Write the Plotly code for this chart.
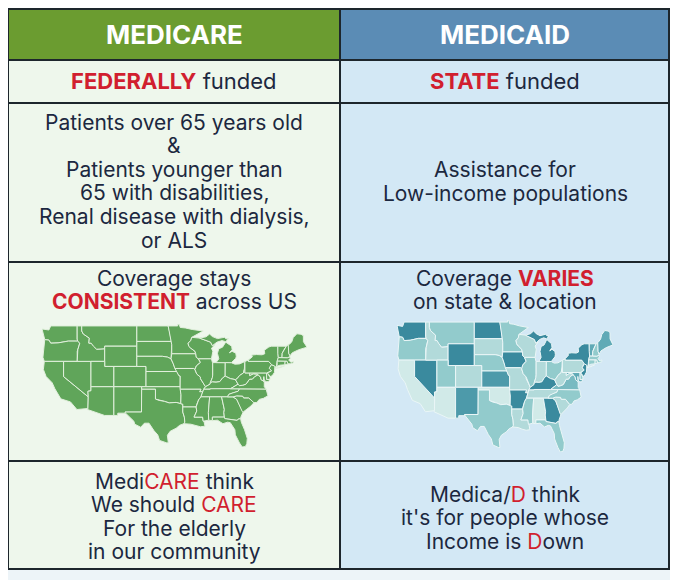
import plotly.graph_objects as go

W, H = 678, 580
OFF = 8  # the page puts the figure 8px in from the corner

# ---- table text, one entry per line ----
headers = ["MEDICARE", "MEDICAID"]
funding = ["<b><span style='color:#d11f2f'>FEDERALLY</span></b> funded",
           "<b><span style='color:#d11f2f'>STATE</span></b> funded"]
eligibility_left = ["Patients over 65 years old", "&", "Patients younger than",
                    "65 with disabilities,", "Renal disease with dialysis,", "or ALS"]
eligibility_right = ["Assistance for", "Low-income populations"]
coverage_left = ["Coverage stays", "<b><span style='color:#d11f2f'>CONSISTENT</span></b> across US"]
coverage_right = ["Coverage <b><span style='color:#d11f2f'>VARIES</span></b>", "on state & location"]
mnemonic_left = ["Medi<span style='color:#d11f2f'>CARE</span> think",
                 "We should <span style='color:#d11f2f'>CARE</span>",
                 "For the elderly", "in our community"]
mnemonic_right = ["Medica/<span style='color:#d11f2f'>D</span> think",
                  "it's for people whose",
                  "Income is <span style='color:#d11f2f'>D</span>own"]

# ---- simplified state outlines (lon, lat); None splits separate parts ----
outlines = {
    "WA": [(-124.7, 48.4), (-123.2, 48.2), (-122.8, 49.0), (-117.04, 49.0), (-117.04, 46.4), (-116.92, 46.0),
           (-119.0, 46.0), (-121.2, 45.65), (-122.8, 45.6), (-123.2, 46.2), (-124.1, 46.3)],
    "OR": [(-124.1, 46.3), (-123.2, 46.2), (-122.8, 45.6), (-121.2, 45.65), (-119.0, 46.0), (-116.92, 46.0),
           (-116.47, 45.6), (-116.9, 44.3), (-117.03, 44.0), (-117.03, 42.0), (-124.2, 42.0), (-124.5, 42.8)],
    "CA": [(-124.2, 42.0), (-120.0, 42.0), (-120.0, 39.0), (-114.63, 35.0), (-114.7, 32.7), (-117.1, 32.5),
           (-118.5, 34.0), (-120.6, 34.6), (-121.9, 36.6), (-122.5, 37.8), (-123.8, 39.0), (-124.4, 40.4)],
    "NV": [(-120.0, 42.0), (-114.04, 42.0), (-114.04, 36.2), (-114.7, 36.1), (-114.63, 35.0), (-120.0, 39.0)],
    "ID": [(-117.04, 49.0), (-116.05, 49.0), (-116.05, 48.0), (-115.7, 47.4), (-114.4, 46.6), (-114.5, 45.6),
           (-114.0, 45.6), (-113.5, 45.0), (-112.8, 44.4), (-111.05, 44.5), (-111.05, 42.0), (-117.03, 42.0),
           (-117.03, 44.0), (-116.9, 44.3), (-116.47, 45.6), (-116.92, 46.0), (-117.04, 46.4)],
    "MT": [(-116.05, 49.0), (-104.05, 49.0), (-104.05, 45.0), (-111.05, 45.0), (-111.05, 44.5), (-112.8, 44.4),
           (-113.5, 45.0), (-114.0, 45.6), (-114.5, 45.6), (-114.4, 46.6), (-115.7, 47.4), (-116.05, 48.0)],
    "WY": [(-111.05, 45.0), (-104.05, 45.0), (-104.05, 41.0), (-111.05, 41.0)],
    "UT": [(-114.04, 42.0), (-111.05, 42.0), (-111.05, 41.0), (-109.05, 41.0), (-109.05, 37.0), (-114.04, 37.0)],
    "CO": [(-109.05, 41.0), (-102.05, 41.0), (-102.05, 37.0), (-109.05, 37.0)],
    "AZ": [(-114.04, 37.0), (-109.05, 37.0), (-109.05, 31.33), (-111.07, 31.33), (-114.8, 32.5), (-114.7, 32.7),
           (-114.63, 35.0), (-114.7, 36.1), (-114.04, 36.2)],
    "NM": [(-109.05, 37.0), (-103.0, 37.0), (-103.0, 36.5), (-103.04, 32.0), (-106.62, 32.0), (-106.5, 31.78),
           (-108.2, 31.78), (-108.2, 31.33), (-109.05, 31.33)],
    "ND": [(-104.05, 49.0), (-97.23, 49.0), (-96.85, 47.6), (-96.6, 46.0), (-96.56, 45.94), (-104.05, 45.94)],
    "SD": [(-104.05, 45.94), (-96.56, 45.94), (-96.45, 45.3), (-96.45, 43.5), (-96.6, 42.5), (-97.4, 42.85),
           (-98.5, 43.0), (-104.05, 43.0)],
    "NE": [(-104.05, 43.0), (-98.5, 43.0), (-97.4, 42.85), (-96.6, 42.5), (-96.1, 41.5), (-95.9, 41.0),
           (-95.3, 40.0), (-102.05, 40.0), (-102.05, 41.0), (-104.05, 41.0)],
    "KS": [(-102.05, 40.0), (-95.3, 40.0), (-94.9, 39.2), (-94.6, 39.1), (-94.62, 37.0), (-102.05, 37.0)],
    "OK": [(-103.0, 37.0), (-94.62, 37.0), (-94.43, 35.4), (-94.48, 33.64), (-95.5, 33.9), (-97.0, 33.8),
           (-98.0, 34.1), (-99.2, 34.3), (-100.0, 34.56), (-100.0, 36.5), (-103.0, 36.5)],
    "TX": [(-103.0, 36.5), (-100.0, 36.5), (-100.0, 34.56), (-99.2, 34.3), (-98.0, 34.1), (-97.0, 33.8),
           (-95.5, 33.9), (-94.48, 33.64), (-94.04, 33.55), (-94.04, 32.0), (-93.7, 31.0), (-93.6, 30.0),
           (-93.8, 29.7), (-94.7, 29.4), (-95.5, 28.8), (-96.8, 28.2), (-97.4, 27.4), (-97.2, 25.95),
           (-97.5, 25.9), (-99.1, 26.4), (-99.5, 27.5), (-100.3, 28.3), (-101.4, 29.8), (-102.4, 29.8),
           (-103.2, 29.0), (-104.5, 29.6), (-104.7, 30.2), (-106.5, 31.78), (-106.62, 32.0), (-103.04, 32.0)],
    "MN": [(-97.23, 49.0), (-95.15, 49.0), (-95.15, 49.38), (-94.8, 49.3), (-94.6, 48.7), (-93.5, 48.6),
           (-92.0, 48.3), (-90.0, 48.1), (-89.6, 48.0), (-92.1, 46.75), (-92.3, 46.1), (-92.9, 45.6),
           (-92.75, 45.0), (-92.3, 44.6), (-91.4, 44.0), (-91.22, 43.5), (-96.45, 43.5), (-96.45, 45.3),
           (-96.56, 45.94), (-96.6, 46.0), (-96.85, 47.6)],
    "IA": [(-96.45, 43.5), (-91.22, 43.5), (-91.1, 42.8), (-90.65, 42.5), (-90.2, 41.8), (-91.1, 41.1),
           (-91.4, 40.4), (-91.7, 40.6), (-95.77, 40.6), (-95.9, 41.0), (-96.1, 41.5), (-96.6, 42.5)],
    "MO": [(-95.77, 40.6), (-91.7, 40.6), (-91.4, 40.4), (-91.0, 39.5), (-90.2, 38.9), (-90.2, 38.6),
           (-89.5, 37.6), (-89.1, 37.0), (-89.5, 36.5), (-89.7, 36.0), (-90.38, 36.0), (-90.1, 36.5),
           (-94.62, 36.5), (-94.62, 37.0), (-94.6, 39.1), (-94.9, 39.2), (-95.3, 40.0)],
    "AR": [(-94.62, 36.5), (-90.1, 36.5), (-90.38, 36.0), (-89.7, 36.0), (-90.1, 35.0), (-90.6, 34.4),
           (-91.0, 33.5), (-91.15, 33.0), (-94.04, 33.0), (-94.04, 33.55), (-94.48, 33.64), (-94.43, 35.4)],
    "LA": [(-94.04, 33.0), (-91.15, 33.0), (-91.0, 32.2), (-91.6, 31.0), (-89.73, 31.0), (-89.6, 30.2),
           (-89.4, 30.0), (-89.2, 29.2), (-90.2, 29.1), (-91.3, 29.3), (-92.3, 29.6), (-93.8, 29.7),
           (-93.6, 30.0), (-93.7, 31.0), (-94.04, 32.0)],
    "WI": [(-92.1, 46.75), (-90.4, 46.6), (-88.0, 45.8), (-87.6, 45.1), (-87.0, 45.3), (-87.8, 44.6),
           (-87.5, 44.0), (-87.8, 42.5), (-90.65, 42.5), (-91.1, 42.8), (-91.22, 43.5), (-91.4, 44.0),
           (-92.3, 44.6), (-92.75, 45.0), (-92.9, 45.6), (-92.3, 46.1)],
    "IL": [(-90.65, 42.5), (-87.8, 42.5), (-87.6, 41.8), (-87.53, 41.7), (-87.53, 39.3), (-87.6, 38.8),
           (-88.05, 37.8), (-88.1, 37.5), (-89.1, 37.0), (-89.5, 37.6), (-90.2, 38.6), (-90.2, 38.9),
           (-91.0, 39.5), (-91.4, 40.4), (-91.1, 41.1), (-90.2, 41.8)],
    "IN": [(-87.53, 41.76), (-84.8, 41.76), (-84.82, 39.1), (-85.4, 38.7), (-86.0, 38.0), (-86.8, 37.9),
           (-87.6, 37.95), (-88.05, 37.8), (-87.6, 38.8), (-87.53, 39.3)],
    "MI": [(-86.8, 41.76), (-84.8, 41.76), (-83.45, 41.73), (-83.1, 42.1), (-82.5, 42.6), (-82.4, 43.0),
           (-82.5, 43.6), (-83.3, 44.0), (-83.9, 43.7), (-83.3, 44.3), (-83.4, 45.0), (-84.7, 45.8),
           (-85.0, 45.4), (-85.4, 44.8), (-86.2, 44.5), (-86.5, 43.6), (-86.2, 42.5), None,
           (-90.4, 46.6), (-89.0, 46.85), (-88.2, 47.4), (-87.6, 46.9), (-86.5, 46.5), (-85.0, 46.75),
           (-84.6, 46.45), (-84.1, 46.5), (-84.7, 45.9), (-85.5, 46.1), (-86.6, 45.8), (-87.6, 45.1),
           (-88.0, 45.8)],
    "OH": [(-84.8, 41.76), (-83.45, 41.73), (-82.7, 41.45), (-81.7, 41.5), (-80.52, 41.98), (-80.52, 40.64),
           (-80.65, 40.4), (-80.85, 39.7), (-81.7, 39.2), (-82.2, 38.6), (-82.6, 38.4), (-83.7, 38.6),
           (-84.82, 39.1)],
    "KY": [(-89.5, 36.5), (-89.1, 37.0), (-88.1, 37.5), (-88.05, 37.8), (-87.6, 37.95), (-86.8, 37.9),
           (-86.0, 38.0), (-85.4, 38.7), (-84.82, 39.1), (-83.7, 38.6), (-82.6, 38.4), (-82.0, 37.5),
           (-83.67, 36.6), (-88.07, 36.6), (-88.07, 36.5)],
    "TN": [(-90.1, 35.0), (-89.7, 36.0), (-89.5, 36.5), (-88.07, 36.5), (-88.07, 36.6), (-83.67, 36.6),
           (-81.68, 36.59), (-82.0, 36.1), (-83.1, 35.8), (-84.0, 35.5), (-84.32, 35.0), (-88.2, 35.0)],
    "MS": [(-91.15, 33.0), (-91.0, 33.5), (-90.6, 34.4), (-90.1, 35.0), (-88.2, 35.0), (-88.47, 31.9),
           (-88.4, 30.4), (-89.6, 30.2), (-89.73, 31.0), (-91.6, 31.0), (-91.0, 32.2)],
    "AL": [(-88.2, 35.0), (-85.6, 35.0), (-85.0, 32.5), (-85.1, 31.9), (-85.0, 31.0), (-87.6, 31.0),
           (-87.6, 30.3), (-88.4, 30.4), (-88.47, 31.9)],
    "GA": [(-85.6, 35.0), (-84.32, 35.0), (-83.1, 35.0), (-82.3, 34.5), (-81.9, 33.7), (-81.1, 32.1),
           (-80.9, 32.0), (-81.4, 31.0), (-81.45, 30.7), (-82.0, 30.6), (-82.2, 30.35), (-84.9, 30.7),
           (-85.0, 31.0), (-85.1, 31.9), (-85.0, 32.5)],
    "FL": [(-87.6, 31.0), (-85.0, 31.0), (-84.9, 30.7), (-82.2, 30.35), (-82.0, 30.6), (-81.45, 30.7),
           (-81.3, 30.0), (-80.6, 28.5), (-80.0, 26.8), (-80.1, 25.8), (-80.4, 25.2), (-81.1, 25.1),
           (-81.7, 25.9), (-82.6, 27.5), (-82.7, 28.5), (-83.7, 29.9), (-84.3, 30.0), (-85.3, 29.7),
           (-86.5, 30.4), (-87.6, 30.3)],
    "SC": [(-83.1, 35.0), (-82.3, 35.2), (-81.0, 35.15), (-80.8, 34.8), (-79.7, 34.8), (-78.55, 33.85),
           (-79.2, 33.2), (-80.0, 32.6), (-80.9, 32.0), (-81.1, 32.1), (-81.9, 33.7), (-82.3, 34.5)],
    "NC": [(-84.32, 35.0), (-83.1, 35.0), (-82.3, 35.2), (-81.0, 35.15), (-80.8, 34.8), (-79.7, 34.8),
           (-78.55, 33.85), (-77.9, 33.9), (-77.4, 34.5), (-76.5, 34.7), (-75.5, 35.2), (-75.7, 36.0),
           (-75.9, 36.55), (-81.68, 36.59), (-82.0, 36.1), (-83.1, 35.8), (-84.0, 35.5)],
    "VA": [(-83.67, 36.6), (-75.9, 36.55), (-76.3, 37.0), (-76.3, 38.0), (-77.0, 38.4), (-77.1, 38.9),
           (-77.5, 39.2), (-77.72, 39.32), (-78.4, 39.0), (-78.9, 38.5), (-79.5, 38.5), (-80.0, 37.9),
           (-80.3, 37.5), (-81.0, 37.3), (-81.7, 37.2), (-82.0, 37.5)],
    "WV": [(-82.6, 38.4), (-82.2, 38.6), (-81.7, 39.2), (-80.85, 39.7), (-80.65, 40.4), (-80.52, 40.64),
           (-80.52, 39.72), (-79.48, 39.72), (-79.48, 39.2), (-78.7, 39.55), (-77.8, 39.5), (-77.72, 39.32),
           (-78.4, 39.0), (-78.9, 38.5), (-79.5, 38.5), (-80.0, 37.9), (-80.3, 37.5), (-81.0, 37.3),
           (-81.7, 37.2), (-82.0, 37.5)],
    "MD": [(-79.48, 39.72), (-75.79, 39.72), (-75.79, 38.45), (-75.05, 38.45), (-75.4, 38.0), (-75.9, 38.0),
           (-76.3, 38.3), (-76.4, 39.0), (-76.5, 38.3), (-76.3, 38.0), (-77.0, 38.4), (-77.1, 38.9),
           (-77.5, 39.2), (-77.72, 39.32), (-77.8, 39.5), (-78.7, 39.55), (-79.48, 39.2)],
    "DE": [(-75.79, 39.72), (-75.4, 39.8), (-75.55, 39.6), (-75.05, 38.8), (-75.05, 38.45), (-75.79, 38.45)],
    "PA": [(-80.52, 41.98), (-80.1, 42.15), (-79.76, 42.27), (-79.76, 42.0), (-75.35, 42.0), (-75.1, 41.8),
           (-74.7, 41.35), (-75.1, 40.85), (-75.2, 40.6), (-74.7, 40.15), (-75.4, 39.8), (-75.79, 39.72),
           (-80.52, 39.72), (-80.52, 40.64)],
    "NJ": [(-74.7, 41.35), (-73.9, 41.0), (-74.0, 40.75), (-73.98, 40.4), (-74.1, 39.8), (-74.4, 39.4),
           (-74.9, 38.95), (-75.1, 39.2), (-75.55, 39.6), (-75.4, 39.8), (-74.7, 40.15), (-75.2, 40.6),
           (-75.1, 40.85)],
    "NY": [(-79.76, 42.0), (-79.76, 42.27), (-78.9, 42.9), (-79.05, 43.25), (-78.0, 43.35), (-76.8, 43.3),
           (-76.2, 43.5), (-76.3, 44.2), (-75.3, 44.85), (-74.7, 45.0), (-73.35, 45.0), (-73.35, 43.6),
           (-73.25, 42.75), (-73.5, 42.05), (-73.5, 41.3), (-73.65, 41.0), (-74.0, 40.75), (-73.9, 41.0),
           (-74.7, 41.35), (-75.1, 41.8), (-75.35, 42.0), None,
           (-74.0, 40.6), (-73.0, 40.75), (-71.9, 41.1), (-72.6, 40.9), (-73.9, 40.55)],
    "VT": [(-73.35, 45.0), (-71.5, 45.0), (-72.0, 44.3), (-72.4, 43.6), (-72.45, 42.73), (-73.25, 42.75),
           (-73.35, 43.6)],
    "NH": [(-71.5, 45.0), (-71.08, 45.3), (-71.0, 44.5), (-70.98, 43.6), (-70.7, 43.1), (-70.8, 42.87),
           (-71.3, 42.7), (-72.45, 42.73), (-72.4, 43.6), (-72.0, 44.3)],
    "ME": [(-71.08, 45.3), (-70.8, 45.4), (-70.3, 45.9), (-70.0, 46.7), (-69.2, 47.45), (-68.3, 47.35),
           (-67.8, 47.07), (-67.78, 45.9), (-67.0, 44.8), (-68.8, 44.3), (-70.2, 43.7), (-70.7, 43.1),
           (-70.98, 43.6), (-71.0, 44.5)],
    "MA": [(-73.5, 42.05), (-73.25, 42.75), (-72.45, 42.73), (-71.3, 42.7), (-70.8, 42.87), (-70.6, 42.6),
           (-71.0, 42.3), (-70.5, 41.8), (-70.0, 42.05), (-70.0, 41.7), (-70.6, 41.55), (-71.12, 41.5),
           (-71.38, 42.02), (-71.8, 42.02)],
    "RI": [(-71.8, 42.02), (-71.38, 42.02), (-71.12, 41.5), (-71.85, 41.32)],
    "CT": [(-73.5, 42.05), (-71.8, 42.02), (-71.85, 41.32), (-72.9, 41.25), (-73.65, 41.0), (-73.5, 41.3)],
}

# shade level of each state on the "varies" map (1 light .. 4 dark)
shade = {"WA": 4, "OR": 2, "CA": 1, "NV": 4, "ID": 1.5, "MT": 2, "WY": 4, "UT": 2, "AZ": 1, "CO": 1.5,
         "NM": 3.5, "ND": 4, "SD": 1.5, "NE": 2, "KS": 3.5, "OK": 1, "TX": 2, "MN": 2, "IA": 4, "MO": 1.5,
         "AR": 4, "LA": 1.5, "WI": 1.5, "IL": 2, "MI": 4, "IN": 1.5, "OH": 2, "KY": 4, "TN": 1.5, "MS": 2,
         "AL": 1, "GA": 4, "FL": 2, "SC": 1.5, "NC": 2, "VA": 2.5, "WV": 1.5, "PA": 1.5, "NY": 4, "VT": 3,
         "NH": 2, "ME": 3, "MA": 2, "CT": 2, "RI": 2, "NJ": 4, "DE": 2, "MD": 3}


def path(pts):
    xs, ys = [], []
    part = []
    for p in pts + [None]:
        if p is None:
            xs += [q[0] for q in part] + [part[0][0], None]
            ys += [q[1] for q in part] + [part[0][1], None]
            part = []
        else:
            part.append(p)
    return xs[:-1], ys[:-1]


def teal(v):
    # light -> dark teal
    stops = [(1, (209, 234, 232)), (2, (146, 203, 204)), (3, (96, 170, 182)), (4, (58, 138, 158))]
    for (a, ca), (b, cb) in zip(stops[:-1], stops[1:]):
        if v <= b:
            t = (v - a) / (b - a)
            return "rgb(%d,%d,%d)" % tuple(round(ca[k] + t * (cb[k] - ca[k])) for k in range(3))
    return "rgb(58,138,158)"


fig = go.Figure()

for st, pts in outlines.items():
    x, y = path(pts)
    fig.add_trace(go.Scatter(x=x, y=y, mode="lines", fill="toself", fillcolor="#60a55a",
                             line=dict(color="#e2f0dd", width=1), xaxis="x2", yaxis="y2",
                             hoverinfo="text", text=st, showlegend=False))
    fig.add_trace(go.Scatter(x=x, y=y, mode="lines", fill="toself", fillcolor=teal(shade[st]),
                             line=dict(color="#eaf6f7", width=1), xaxis="x3", yaxis="y3",
                             hoverinfo="text", text=st, showlegend=False))

# ---- table frame (page pixels) ----
rows = [9, 60, 103, 262, 461, 569]
xl, xm, xr = 8, 340, 669
border = "#1d262c"
shapes = [
    dict(type="rect", x0=xl, x1=xm, y0=rows[0], y1=rows[1], fillcolor="#6b9c30", line_width=0),
    dict(type="rect", x0=xm, x1=xr, y0=rows[0], y1=rows[1], fillcolor="#5b8cb5", line_width=0),
    dict(type="rect", x0=xl, x1=xm, y0=rows[1], y1=rows[-1], fillcolor="#eef7ec", line_width=0),
    dict(type="rect", x0=xm, x1=xr, y0=rows[1], y1=rows[-1], fillcolor="#d3e8f5", line_width=0),
]
for y in rows[1:-1]:
    shapes.append(dict(type="line", x0=xl, x1=xr, y0=y, y1=y, line=dict(color=border, width=2)))
shapes.append(dict(type="line", x0=xm, x1=xm, y0=rows[0], y1=rows[-1], line=dict(color=border, width=2)))
shapes.append(dict(type="rect", x0=xl, x1=xr, y0=rows[0], y1=rows[-1], line=dict(color=border, width=2)))
for s in shapes:
    s.update(xref="x", yref="y", layer="below")

txt = "#1c2840"
font = "Inter"
cl, cr = 174, 505
ann = []


def lines(x, y0, items, size=21, step=23.6, color=txt, bold=False):
    for i, t in enumerate(items):
        ann.append(dict(x=x, y=y0 + i * step, text=("<b>%s</b>" % t) if bold else t,
                        font=dict(size=size, color=color, family=font)))


lines(cl, 34, [headers[0]], size=26, color="white", bold=True)
lines(cr, 34, [headers[1]], size=26, color="white", bold=True)
lines(cl, 81, [funding[0]], size=22)
lines(cr, 81, [funding[1]], size=22)
lines(cl, 122, eligibility_left)
lines(cr, 169.5, eligibility_right)
lines(cl, 278, coverage_left)
lines(cr, 278, coverage_right)
lines(cl, 481, mnemonic_left)
lines(cr, 494, mnemonic_right)
for a in ann:
    a.update(xref="x", yref="y", showarrow=False, align="center", yanchor="middle")


def dom_x(a, b):
    return [(a - OFF) / W, (b - OFF) / W]


def dom_y(top, bottom):
    return [(H + OFF - bottom) / H, (H + OFF - top) / H]


lon_rng, lat_rng = [-124.7, -67.0], [25.1, 49.38]
map_axis = dict(visible=False, fixedrange=True)
fig.update_layout(
    width=W, height=H, margin=dict(l=0, r=0, t=0, b=0),
    paper_bgcolor="#edf4f8", plot_bgcolor="rgba(0,0,0,0)",
    xaxis=dict(range=[OFF, W + OFF], visible=False, fixedrange=True, domain=[0, 1]),
    yaxis=dict(range=[H + OFF, OFF], visible=False, fixedrange=True, domain=[0, 1]),
    xaxis2=dict(domain=dom_x(42, 307), anchor="y2", range=lon_rng, **map_axis),
    yaxis2=dict(domain=dom_y(324, 447), anchor="x2", range=lat_rng, **map_axis),
    xaxis3=dict(domain=dom_x(397, 613), anchor="y3", range=lon_rng, **map_axis),
    yaxis3=dict(domain=dom_y(320, 452), anchor="x3", range=lat_rng, **map_axis),
    shapes=shapes, annotations=ann, showlegend=False,
)

fig.write_html("out.html")
